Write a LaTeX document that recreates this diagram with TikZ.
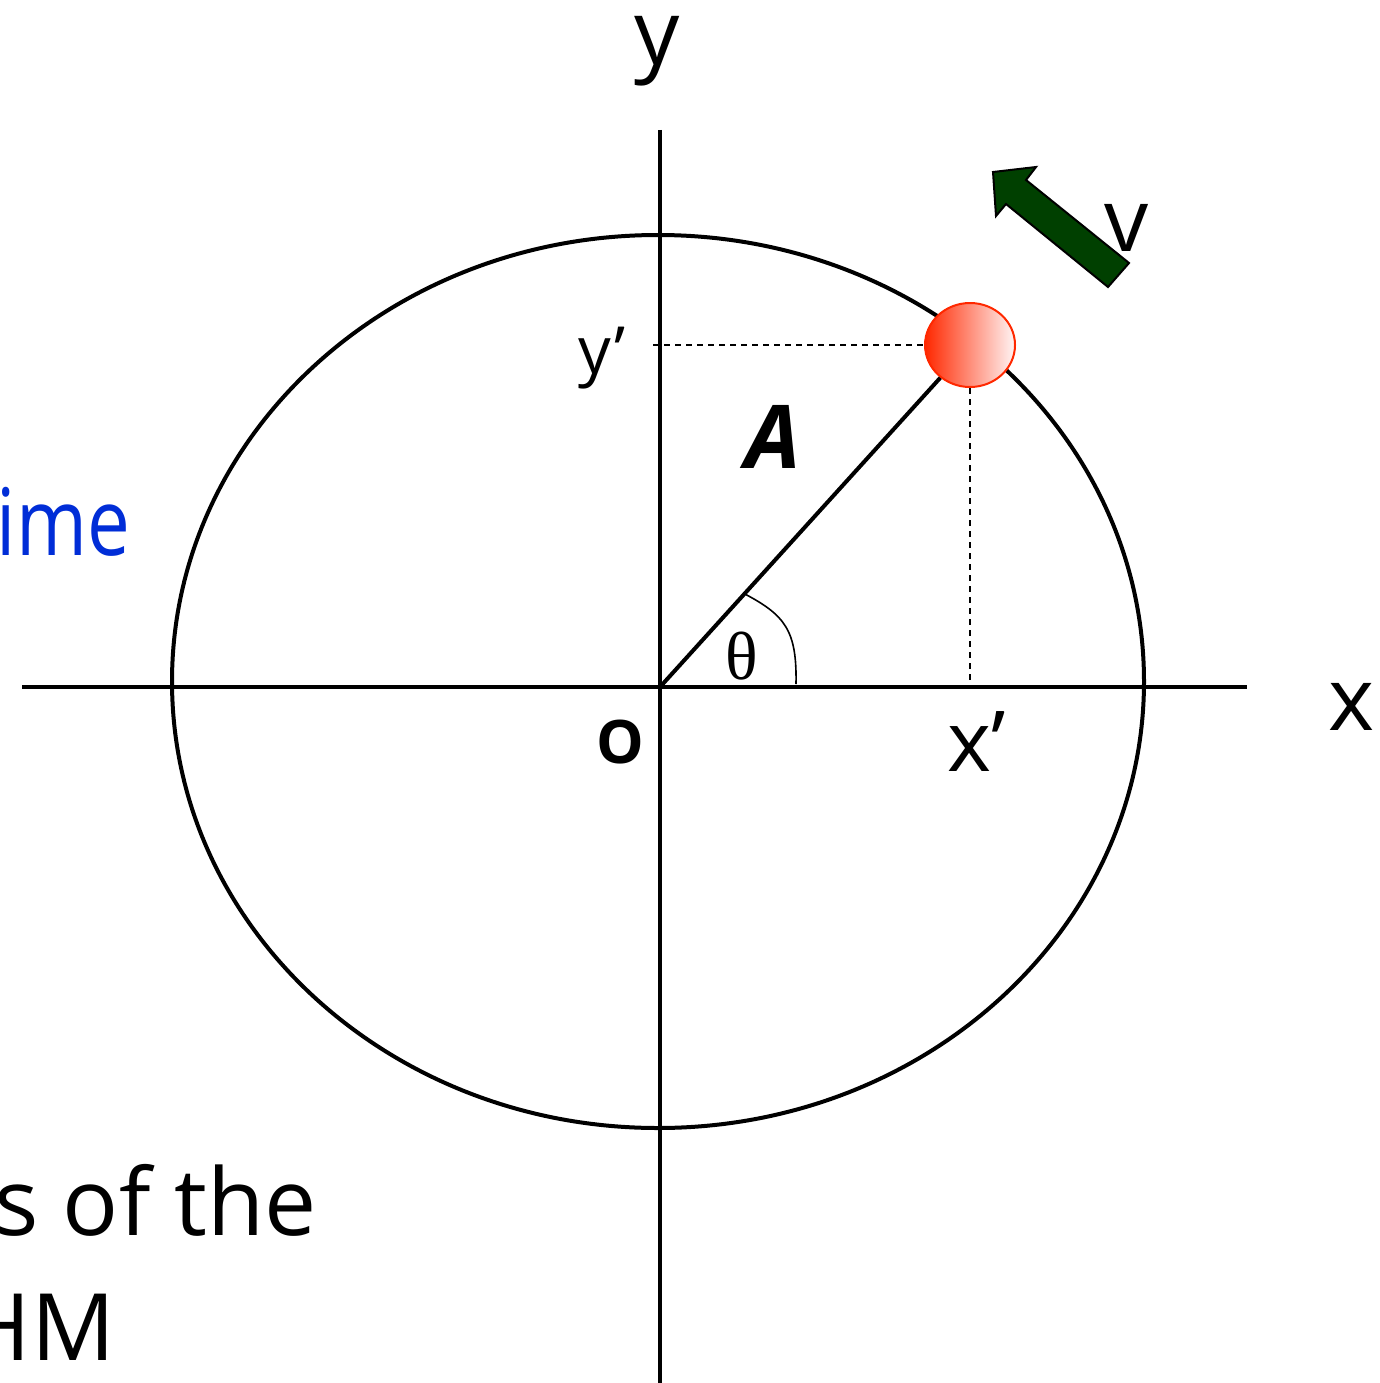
\documentclass[tikz,border=0pt]{standalone}
\usepackage{fontspec}
\usepackage{graphicx}
\usetikzlibrary{shapes.geometric}
\setmainfont{Open Sans}
\newfontfamily\greekserif{Liberation Serif}
\definecolor{textblue}{RGB}{0,45,215}
\definecolor{arrowgreen}{RGB}{0,64,0}
\definecolor{ballred}{RGB}{255,40,0}
\begin{document}
\begin{tikzpicture}[x=1pt,y=-1pt,
  axis/.style={line width=4pt},
  lbl/.style={inner sep=0pt,outer sep=0pt},
  dashline/.style={line width=1.6pt,dash pattern=on 6pt off 5pt}]
\useasboundingbox (0,0) rectangle (1380,1383);
% coordinates
\coordinate (O) at (660,687);
\coordinate (xl) at (22,687);
\coordinate (xr) at (1247,687);
\coordinate (yt) at (660,130);
\coordinate (yb) at (660,1383);
\coordinate (yp) at (653,345);
\coordinate (thA) at (743,593);
\coordinate (thB) at (796,684);
% axes
\draw[axis] (xl) -- (xr);
\draw[axis] (yt) -- (yb);
% ellipse
\draw[line width=4pt] (658,681.5) ellipse [x radius=486, y radius=446.5];
% ball
\node[ellipse,minimum width=90pt,minimum height=84pt,draw=ballred,line width=2pt,
  left color=ballred,right color=white!96!red,inner sep=0pt] (ball) at (970,345) {};
% radius
\draw[line width=4pt] (O) -- (ball);
% dashed projections
\draw[dashline] (yp) -- (ball.west);
\draw[dashline] (ball.south) -- (ball.south |- O);
% theta arc
\draw[line width=1.6pt] (thA) .. controls (785,615) and (797,630) .. (thB);
% velocity arrow
\draw[line width=2pt,fill=arrowgreen,line join=miter]
  (993,172) -- (1036,167) -- (1026,180) -- (1129,263) -- (1108,287) -- (1006,204) -- (996,216) -- cycle;
% labels
\node[lbl] (ylab) at (657,51) {\fontsize{90}{90}\selectfont y};
\node[lbl] (xlab) at (1352,707) {\fontsize{88}{88}\selectfont x};
\node[lbl] (olab) at (620,742) {\fontsize{60}{60}\selectfont\bfseries O};
\node[lbl] (xplab) at (977,742) {\fontsize{84}{84}\selectfont x’};
\node[lbl] (yplab) at (602,358) {\fontsize{65}{65}\selectfont y’};
\node[lbl] (alab) at (773,437) {\fontsize{88}{88}\selectfont\bfseries\itshape A};
\node[lbl] (vlab) at (1127,228) {\fontsize{88}{88}\selectfont v};
\node[lbl] (thlab) at (742,656) {\fontsize{68}{68}\selectfont\greekserif θ};
% cut-off text on the left
\node[lbl,anchor=base east,text=textblue] (t1) at (130,555) {\scalebox{0.82}[1]{\fontsize{93}{93}\selectfont ime}};
\node[lbl,anchor=base east] (t2) at (317,1235) {\fontsize{93}{93}\selectfont s of the};
\node[lbl,anchor=base east] (t3) at (115,1360) {\fontsize{93}{93}\selectfont HM};
\end{tikzpicture}
\end{document}
